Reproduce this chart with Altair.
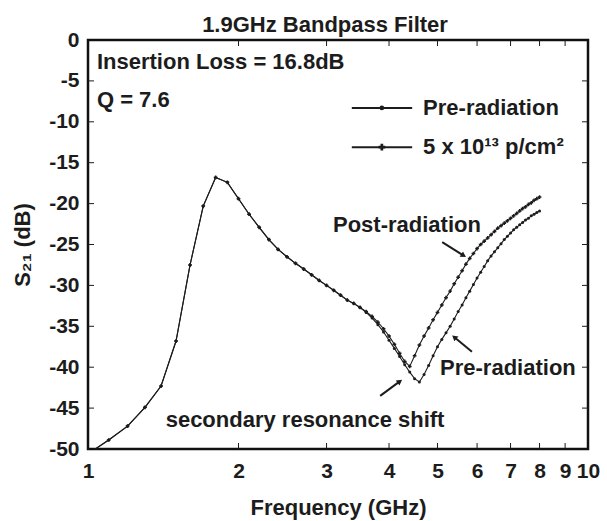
import altair as alt
import pandas as pd

# ---------------- data ----------------
freq = [1.0, 1.1, 1.2, 1.3, 1.4, 1.5, 1.6, 1.7, 1.8, 1.9,
        2.0, 2.1, 2.2, 2.3, 2.4, 2.5, 2.6, 2.7, 2.8, 2.9,
        3.0, 3.1, 3.2, 3.3, 3.4, 3.5, 3.6, 3.7, 3.8, 3.9,
        4.0, 4.1, 4.2, 4.3, 4.4, 4.5, 4.6, 4.7, 4.8, 4.9,
        5.0, 5.1, 5.2, 5.3, 5.4, 5.5, 5.6, 5.7, 5.8, 5.9,
        6.0, 6.1, 6.2, 6.3, 6.4, 6.5, 6.6, 6.7, 6.8, 6.9,
        7.0, 7.1, 7.2, 7.3, 7.4, 7.5, 7.6, 7.7, 7.8, 7.9,
        8.0]

# 1.0 .. 3.5 GHz: both curves coincide
shared_db = [-50.6, -48.9, -47.2, -44.9, -42.3, -36.8, -27.5, -20.3, -16.8, -17.4,
             -19.4, -21.3, -22.9, -24.4, -25.6, -26.5, -27.3, -28.0, -28.7, -29.4,
             -30.0, -30.6, -31.2, -31.8, -32.2, -32.7]

# 3.6 .. 8.0 GHz
pre_tail_db = [-33.3, -34.0, -34.8, -35.7,
               -36.7, -37.7, -38.7, -39.7, -40.6, -41.4, -41.8, -40.9, -39.8, -38.6,
               -37.5, -36.6, -35.8, -35.0, -34.1, -33.2, -32.4, -31.5, -30.7, -29.9,
               -29.1, -28.4, -27.7, -27.0, -26.4, -25.9, -25.4, -24.9, -24.4, -24.0,
               -23.6, -23.2, -22.9, -22.6, -22.3, -22.0, -21.8, -21.5, -21.3, -21.1,
               -20.9]
post_tail_db = [-33.2, -33.8, -34.5, -35.3,
                -36.2, -37.2, -38.3, -39.3, -39.9, -38.6, -37.3, -36.2, -35.2, -34.2,
                -33.3, -32.4, -31.5, -30.7, -29.8, -29.0, -28.2, -27.4, -26.7, -26.1,
                -25.5, -25.0, -24.6, -24.2, -23.8, -23.4, -23.0, -22.7, -22.4, -22.1,
                -21.8, -21.5, -21.2, -20.9, -20.6, -20.4, -20.1, -19.9, -19.6, -19.4,
                -19.2]

pre_db = shared_db + pre_tail_db
post_db = shared_db + post_tail_db

x_ticks = [1, 2, 3, 4, 5, 6, 7, 8, 9, 10]
y_ticks = [0, -5, -10, -15, -20, -25, -30, -35, -40, -45, -50]

title_text = "1.9GHz Bandpass Filter"
x_title = "Frequency (GHz)"
y_title = "S\u2082\u2081 (dB)"

# text annotations (data coordinates)
notes_text = ["Insertion Loss = 16.8dB", "Q = 7.6", "Post-radiation",
              "Pre-radiation", "secondary resonance shift"]
notes_f = [1.042, 1.042, 3.09, 5.06, 1.43]
notes_db = [-2.7, -7.3, -22.6, -40.1, -46.5]

# arrows (start -> end, data coordinates) and head rotation
arrow_f = [5.11, 5.86, 3.84]
arrow_db = [-24.7, -38.1, -43.5]
arrow_f2 = [5.62, 5.42, 4.19]
arrow_db2 = [-26.3, -36.4, -41.8]
arrow_angle = [122, 310, 54]

# legend (drawn inside the frame)
legend_labels = ["Pre-radiation", "5 x 10\u00b9\u00b3 p/cm\u00b2"]
legend_db = [-8.3, -13.1]
legend_f1 = 3.37
legend_f2 = 4.45
legend_fm = 3.87
legend_ft = 4.68

# ---------------- chart ----------------
FONT = "Liberation Sans, Arial, Helvetica, sans-serif"
INK = "#1c1c1c"
W, H = 500, 409

n = len(freq)
curves = pd.DataFrame({
    "f": freq + freq,
    "db": pre_db + post_db,
    "series": ["pre"] * n + ["post"] * n,
})

xscale = alt.Scale(type="log", domain=[1, 10], nice=False)
yscale = alt.Scale(domain=[-50, 0], nice=False)
XAX = alt.Axis(values=x_ticks, title=x_title, labelExpr="'' + datum.value",
               labelPadding=11, titlePadding=16, labelOverlap=False,
               labelFlush=False, labelBound=False)
YAX = alt.Axis(values=y_ticks, title=y_title, labelExpr="'' + datum.value",
               labelPadding=9, titlePadding=14, labelOverlap=False,
               labelFlush=False, labelBound=False)


def xe(field):
    return alt.X(field, type="quantitative", scale=xscale, axis=XAX)


def ye(field):
    return alt.Y(field, type="quantitative", scale=yscale, axis=YAX)


base = alt.Chart(curves)

lines = base.mark_line(color=INK, strokeWidth=1.1, clip=True).encode(
    x=xe("f"), y=ye("db"), detail="series:N")

pre_pts = base.transform_filter(alt.datum.series == "pre").mark_circle(
    color=INK, size=9, opacity=1, clip=True).encode(x=xe("f"), y=ye("db"))

post_pts = base.transform_filter(alt.datum.series == "post").mark_point(
    shape="cross", filled=True, color=INK, size=14, opacity=1, clip=True).encode(
    x=xe("f"), y=ye("db"))

# inner tick marks (MATLAB style) on all four sides
xt = pd.DataFrame({"f": x_ticks[1:-1]})
yt = pd.DataFrame({"db": y_ticks[1:-1]})
tick_bottom = alt.Chart(xt).mark_rule(color=INK, strokeWidth=1).encode(
    x=xe("f"), y=alt.value(H), y2=alt.value(H - 6))
tick_top = alt.Chart(xt).mark_rule(color=INK, strokeWidth=1).encode(
    x=xe("f"), y=alt.value(0), y2=alt.value(6))
tick_left = alt.Chart(yt).mark_rule(color=INK, strokeWidth=1).encode(
    y=ye("db"), x=alt.value(0), x2=alt.value(6))
tick_right = alt.Chart(yt).mark_rule(color=INK, strokeWidth=1).encode(
    y=ye("db"), x=alt.value(W), x2=alt.value(W - 6))

notes = alt.Chart(pd.DataFrame({"f": notes_f, "db": notes_db, "t": notes_text})).mark_text(
    align="left", baseline="middle", font=FONT, fontSize=22, fontWeight="bold",
    color=INK).encode(x=xe("f"), y=ye("db"), text="t:N")

arrows_df = pd.DataFrame({"f": arrow_f, "db": arrow_db, "f2": arrow_f2,
                          "db2": arrow_db2, "ang": arrow_angle})
arrow_lines = alt.Chart(arrows_df).mark_rule(color=INK, strokeWidth=2).encode(
    x=xe("f"), y=ye("db"), x2="f2:Q", y2="db2:Q")
arrow_heads = alt.Chart(arrows_df).mark_point(
    shape="triangle", filled=True, color=INK, size=40, opacity=1).encode(
    x=xe("f2"), y=ye("db2"), angle=alt.Angle("ang:Q", scale=None))

leg_df = pd.DataFrame({"f": [legend_f1] * 2, "f2": [legend_f2] * 2,
                       "fm": [legend_fm] * 2, "ft": [legend_ft] * 2,
                       "db": legend_db, "t": legend_labels,
                       "series": ["pre", "post"]})
leg_lines = alt.Chart(leg_df).mark_rule(color=INK, strokeWidth=2).encode(
    x=xe("f"), x2="f2:Q", y=ye("db"))
leg_dot = alt.Chart(leg_df).transform_filter(alt.datum.series == "pre").mark_circle(
    color=INK, size=22, opacity=1).encode(x=xe("fm"), y=ye("db"))
leg_plus = alt.Chart(leg_df).transform_filter(alt.datum.series == "post").mark_point(
    shape="cross", filled=True, color=INK, size=45, opacity=1).encode(
    x=xe("fm"), y=ye("db"))
leg_text = alt.Chart(leg_df).mark_text(
    align="left", baseline="middle", font=FONT, fontSize=22, fontWeight="bold",
    color=INK).encode(x=xe("ft"), y=ye("db"), text="t:N")

chart = alt.layer(
    lines, pre_pts, post_pts,
    tick_bottom, tick_top, tick_left, tick_right,
    notes, arrow_lines, arrow_heads,
    leg_lines, leg_dot, leg_plus, leg_text,
).properties(
    width=W, height=H,
    title=alt.TitleParams(title_text, font=FONT, fontSize=22, fontWeight="bold",
                          color=INK, anchor="middle", dx=-13, dy=12, offset=4),
    padding={"left": 88, "top": 40, "right": 19, "bottom": 72},
    autosize=alt.AutoSizeParams(type="none"),
    background="white",
).configure_view(
    stroke="#111", strokeWidth=2.5
).configure_axis(
    grid=False, domain=False, ticks=False,
    labelFont=FONT, labelFontSize=21, labelFontWeight="bold", labelColor=INK,
    titleFont=FONT, titleFontSize=22, titleFontWeight="bold", titleColor=INK,
)

chart.save("out.html", embed_options={"renderer": "svg", "actions": False})
